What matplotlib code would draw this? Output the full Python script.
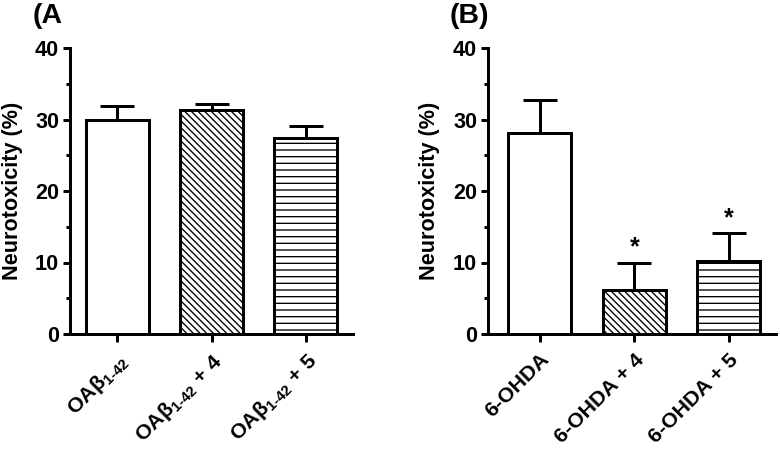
import numpy as np
import matplotlib
matplotlib.use('Agg')
import matplotlib.pyplot as plt

plt.rcParams['font.family'] = ['Liberation Sans', 'DejaVu Sans']
plt.rcParams['font.weight'] = 'bold'
plt.rcParams['mathtext.fontset'] = 'custom'
plt.rcParams['mathtext.rm'] = 'Liberation Sans:bold'
plt.rcParams['mathtext.bf'] = 'Liberation Sans:bold'
plt.rcParams['mathtext.it'] = 'Liberation Sans:bold'
plt.rcParams['mathtext.default'] = 'bf'
plt.rcParams['hatch.linewidth'] = 0.8
plt.rcParams['hatch.color'] = 'black'

# panel A data
labels_a = [r'OAβ$_{1\text{-}42}$', r'OAβ$_{1\text{-}42}$ + 4', r'OAβ$_{1\text{-}42}$ + 5']
vals_a = [29.9, 31.3, 27.4]
errs_a = [2.0, 0.9, 1.7]

# panel B data
labels_b = ['6-OHDA', '6-OHDA + 4', '6-OHDA + 5']
vals_b = [28.1, 6.2, 10.2]
errs_b = [4.6, 3.8, 3.9]
sig_b = [False, True, True]

hatches = ['', '\\\\\\\\\\\\', '---']

fig = plt.figure(figsize=(6.5, 451 / 120), dpi=120)
ax_a = fig.add_axes([70 / 780, 1 - 334 / 451, 283 / 780, 286 / 451])
ax_b = fig.add_axes([488 / 780, 1 - 334 / 451, 288 / 780, 286 / 451])


def draw(ax, labels, vals, errs, xlim):
    x = np.arange(len(vals))
    ax.bar(x, vals, width=0.667, color='white', edgecolor='black',
           linewidth=1.8, hatch=hatches, zorder=2)
    ax.errorbar(x, vals, yerr=[np.zeros(len(vals)), errs], fmt='none',
                ecolor='black', elinewidth=1.8, capsize=10, capthick=1.8, zorder=1)
    ax.set_xlim(*xlim)
    ax.set_ylim(0, 40)
    ax.set_yticks([0, 10, 20, 30, 40])
    ax.set_yticks([5, 15, 25, 35], minor=True)
    ax.set_xticks(x)
    ax.set_xticklabels(labels, rotation=45, ha='right', va='top',
                       rotation_mode='anchor', fontsize=12.8, fontweight='bold')
    for s in ['top', 'right']:
        ax.spines[s].set_visible(False)
    for s in ['left', 'bottom']:
        ax.spines[s].set_linewidth(1.8)
    ax.tick_params(axis='both', which='major', length=4.5, width=1.8)
    ax.tick_params(axis='y', labelsize=13, pad=2)
    ax.tick_params(axis='x', pad=5)
    ax.tick_params(axis='y', which='minor', length=2.5, width=1.8)
    ax.set_ylabel('Neurotoxicity (%)', fontsize=13, fontweight='bold')
    ax.yaxis.set_label_coords(-0.165, 0.5)
    return x


draw(ax_a, labels_a, vals_a, errs_a, (-0.5, 2.5))
xb = draw(ax_b, labels_b, vals_b, errs_b, (-0.55, 2.5))
for xi, v, e, s in zip(xb, vals_b, errs_b, sig_b):
    if s:
        ax_b.text(xi, v + e + 0.4, '*', ha='center', va='bottom', fontsize=15, fontweight='bold')

fig.text(33 / 780, 1 - 16 / 451, '(A', fontsize=17, fontweight='bold', va='center')
fig.text(450 / 780, 1 - 16 / 451, '(B)', fontsize=17, fontweight='bold', va='center')

fig.savefig('out.png', dpi=120)
